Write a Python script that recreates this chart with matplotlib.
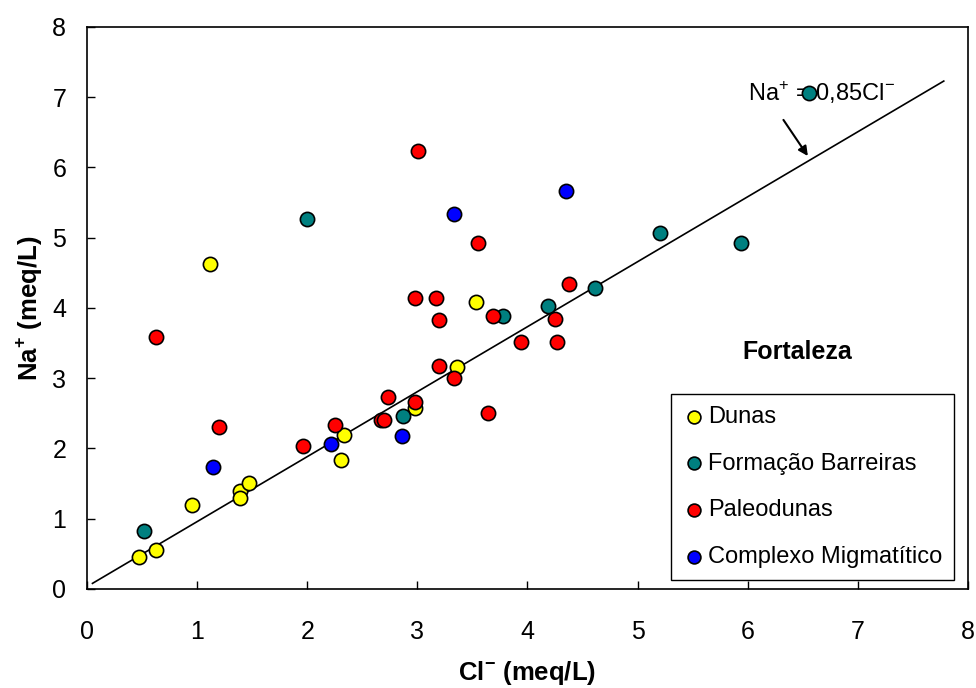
import matplotlib
matplotlib.use("Agg")
import matplotlib.pyplot as plt

# Cl- (x) e Na+ (y) em meq/L
dunas_x = [1.12, 0.95, 1.39, 1.39, 1.47, 0.47, 0.63, 2.33, 2.31, 3.53, 3.36, 2.98]
dunas_y = [4.62, 1.20, 1.40, 1.30, 1.51, 0.46, 0.55, 2.19, 1.84, 4.08, 3.16, 2.57]

barreiras_x = [0.52, 2.00, 2.87, 3.78, 4.19, 4.61, 5.20, 5.94, 6.56]
barreiras_y = [0.83, 5.26, 2.46, 3.88, 4.03, 4.28, 5.07, 4.93, 7.06]

paleo_x = [0.63, 1.20, 1.96, 2.25, 2.67, 2.70, 2.73, 2.98, 3.01, 2.98, 3.17,
           3.20, 3.20, 3.33, 3.55, 3.64, 3.69, 3.94, 4.25, 4.27, 4.38]
paleo_y = [3.58, 2.30, 2.04, 2.33, 2.40, 2.40, 2.73, 2.66, 6.24, 4.14, 4.14,
           3.83, 3.18, 3.00, 4.93, 2.50, 3.88, 3.52, 3.84, 3.52, 4.34]

complexo_x = [1.14, 2.22, 2.86, 3.33, 4.35]
complexo_y = [1.74, 2.06, 2.18, 5.34, 5.66]

# reta de referência
reta_x = [0.05, 7.78]
reta_y = [0.08, 7.23]

plt.rcParams['font.family'] = ['Liberation Sans', 'DejaVu Sans']
plt.rcParams['mathtext.fontset'] = 'custom'
plt.rcParams['mathtext.rm'] = 'Liberation Sans'
plt.rcParams['mathtext.bf'] = 'Liberation Sans:bold'

fig = plt.figure(figsize=(9.76, 6.88), dpi=100)
ax = fig.add_axes([0.0891, 0.1439, 0.9027, 0.8169])

ax.plot(reta_x, reta_y, color='black', lw=1.2, zorder=2)

grupos = [
    (dunas_x, dunas_y, '#FFFF00', 'Dunas'),
    (barreiras_x, barreiras_y, '#008080', 'Formação Barreiras'),
    (paleo_x, paleo_y, '#FF0000', 'Paleodunas'),
    (complexo_x, complexo_y, '#0000FF', 'Complexo Migmatítico'),
]
for x, y, cor, nome in grupos:
    ax.scatter(x, y, s=105, c=cor, edgecolors='black', linewidths=1.2,
               label=nome, zorder=4)

ax.text(6.0, 7.06, 'Na$^{+}$ = 0,85Cl$^{-}$', fontsize=17, va='center',
        ha='left', zorder=3)
ax.annotate('', xy=(6.56, 6.13), xytext=(6.31, 6.71),
            arrowprops=dict(arrowstyle='-|>', color='black', lw=1.5,
                            mutation_scale=14), zorder=3)
ax.text(6.45, 3.37, 'Fortaleza', fontsize=18, fontweight='bold',
        ha='center', va='center')

ax.set_xlim(0, 8)
ax.set_ylim(0, 8)
ax.set_xticks(range(9))
ax.set_yticks(range(9))
ax.tick_params(direction='in', length=6, width=1, labelsize=18)
ax.tick_params(axis='x', pad=22)
ax.tick_params(axis='y', pad=15)
for s in ax.spines.values():
    s.set_linewidth(1.2)

ax.set_xlabel(r'Cl$^{\mathbf{-}}$ (meq/L)', fontsize=18.5, fontweight='bold',
              labelpad=11)
ax.set_ylabel(r'Na$^{\mathbf{+}}$ (meq/L)', fontsize=18.5, fontweight='bold',
              labelpad=6)

leg = ax.legend(loc='lower right', bbox_to_anchor=(0.984, 0.016),
                fontsize=17, labelspacing=1.05, handletextpad=0.15,
                handlelength=0.9, borderpad=0.5, borderaxespad=0.0,
                fancybox=False, framealpha=1, edgecolor='black',
                markerscale=0.9, scatterpoints=1)
leg.get_frame().set_linewidth(1.0)

fig.savefig('out.png', dpi=100)
